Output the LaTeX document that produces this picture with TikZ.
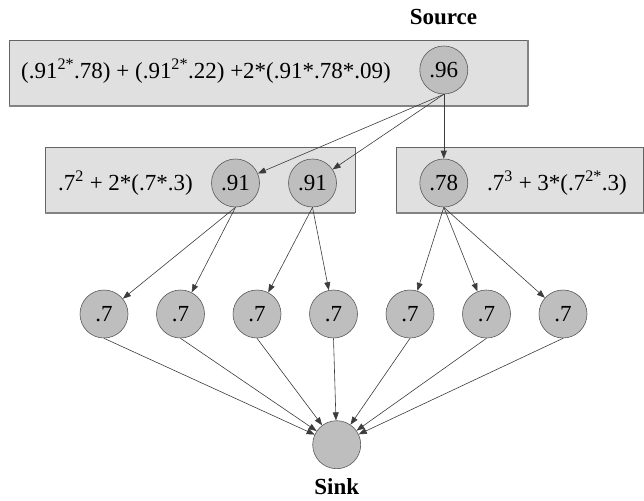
\documentclass[tikz,border=0pt]{standalone}
\usepackage{fontspec}
\setmainfont{Liberation Serif}
\usepackage{tikz}
\usetikzlibrary{arrows.meta}

\definecolor{boxfill}{RGB}{224,224,224}
\definecolor{boxline}{RGB}{100,100,100}
\definecolor{nodefill}{RGB}{190,190,190}
\definecolor{nodeline}{RGB}{90,90,90}
\definecolor{edgecol}{RGB}{60,60,60}

\begin{document}
\begin{tikzpicture}[x=1pt,y=-1pt]
\tikzset{font=\rmfamily\fontsize{23}{27}\selectfont}
\tikzset{group/.style={draw=boxline, fill=boxfill, line width=0.6pt, minimum height=65pt, inner sep=0pt}}
\tikzset{rim/.style={draw=boxline!80, line width=1.4pt}}
\tikzset{vertex/.style={circle, draw=nodeline, fill=nodefill, line width=0.6pt, minimum size=48pt, inner sep=0pt}}
\tikzset{label/.style={anchor=west, inner sep=0pt}}
\tikzset{title/.style={font=\rmfamily\fontsize{23}{27}\selectfont\bfseries}}
\tikzset{edge/.style={draw=edgecol, line width=0.6pt, -{Triangle[length=8pt,width=6pt]}}}
\useasboundingbox (0,0) rectangle (644,500);

% the three grey groups
\node[group, minimum width=518pt] (topbox) at (268.5,73.3) {};
\node[group, minimum width=310pt] (leftbox) at (200,180) {};
\node[group, minimum width=247pt] (rightbox) at (520,180) {};
\foreach \b in {topbox,leftbox,rightbox}
  \draw[rim] (\b.south west) -- (\b.south east);
\draw[rim] (topbox.south east) -- (topbox.north east);

\node[label] (ftop) at (21,71) {(.91\textsuperscript{2*}.78) + (.91\textsuperscript{2*}.22) +2*(.91*.78*.09)};
\node[label] (fleft) at (58,183) {.7\textsuperscript{2} + 2*(.7*.3)};
\node[label] (fright) at (487,183) {.7\textsuperscript{3} + 3*(.7\textsuperscript{2*}.3)};

% nodes
\node[title] (src) at (443.5,17) {Source};
\node[vertex] (n96) at (443.8,70) {.96};
\node[vertex] (n91a) at (235.5,183) {.91};
\node[vertex] (n91b) at (312.5,183) {.91};
\node[vertex] (n78) at (443.8,183) {.78};
\foreach \i in {1,...,7}
  \node[vertex] (p\i) at ({27.5+76.5*\i},314) {.7};
\node[vertex] (sink) at (336.7,444.7) {};
\node[title] (snk) at (336.7,487) {Sink};

% edges
\foreach \s/\t in {n96/n91a, n96/n91b, n96/n78,
                   n91a/p1, n91a/p2, n91b/p3, n91b/p4,
                   n78/p5, n78/p6, n78/p7}
  \draw[edge] (\s.south) -- (\t);
\foreach \i in {1,...,7}
  \draw[edge] (p\i.south) -- (sink);
\end{tikzpicture}
\end{document}
